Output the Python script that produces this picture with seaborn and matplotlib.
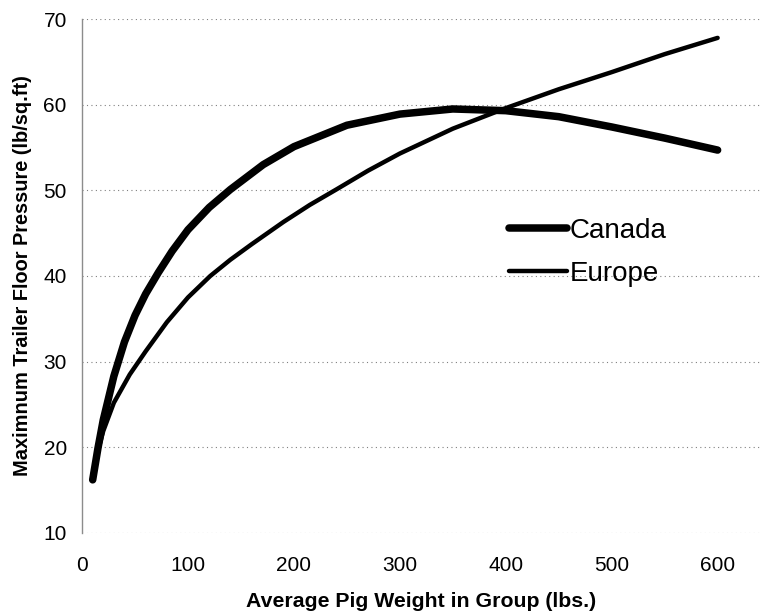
import pandas as pd
import matplotlib.pyplot as plt
import seaborn as sns

# values
canada_weight = [10, 15, 20, 30, 40, 50, 60, 72, 85, 100, 120, 140, 171, 200, 250, 300, 350, 400, 450, 500, 550, 600]
canada_pressure = [16.2, 19.9, 23.2, 28.3, 32.3, 35.4, 37.9, 40.4, 42.9, 45.4, 48.0, 50.1, 53.0, 55.1, 57.6, 58.9,
                   59.5, 59.3, 58.6, 57.4, 56.1, 54.7]

europe_weight = [10, 15, 20, 30, 45, 60, 80, 100, 121, 140, 160, 190, 215, 240, 270, 300, 350, 400, 450, 500, 550, 600]
europe_pressure = [16.8, 19.6, 21.9, 25.2, 28.5, 31.2, 34.6, 37.5, 40.0, 41.9, 43.7, 46.3, 48.3, 50.1, 52.3, 54.3,
                   57.2, 59.6, 61.8, 63.8, 65.9, 67.8]

x_ticks = [0, 100, 200, 300, 400, 500, 600]
y_ticks = [10, 20, 30, 40, 50, 60, 70]

canada = pd.DataFrame({"weight": canada_weight, "pressure": canada_pressure})
europe = pd.DataFrame({"weight": europe_weight, "pressure": europe_pressure})

sns.set_style("white")
plt.rcParams['font.family'] = ['Liberation Sans', 'DejaVu Sans']
plt.rcParams['text.color'] = 'black'
plt.rcParams['axes.labelcolor'] = 'black'

fig = plt.figure(figsize=(7.6, 6.14), dpi=100)
ax = fig.add_axes([0.108, 0.132, 0.892, 0.837])

sns.lineplot(data=canada, x="weight", y="pressure", ax=ax, color="black", linewidth=5.4,
             label="Canada", solid_capstyle="round", solid_joinstyle="round")
sns.lineplot(data=europe, x="weight", y="pressure", ax=ax, color="black", linewidth=3.2,
             label="Europe", solid_capstyle="round", solid_joinstyle="round")

ax.set_xlim(0, 640)
ax.set_ylim(10, 70)
ax.set_xticks(x_ticks)
ax.set_yticks(y_ticks)
ax.tick_params(axis="both", labelsize=15, colors="black", width=0.8)
ax.tick_params(axis="x", direction="inout", length=3, pad=15)
ax.tick_params(axis="y", length=4, pad=7)

for yv in y_ticks:
    ax.axhline(yv, color="0.5", linestyle=(0, (1, 3)), linewidth=0.8, zorder=0)

for side in ["top", "right", "bottom"]:
    ax.spines[side].set_visible(False)
ax.spines["left"].set_color("0.55")
ax.spines["left"].set_linewidth(1.0)

ax.set_xlabel("Average Pig Weight in Group (lbs.)", fontsize=15.3, fontweight="bold", labelpad=12, color="black")
ax.set_ylabel("Maximnum Trailer Floor Pressure (lb/sq.ft)", fontsize=14.4, fontweight="bold", labelpad=8, color="black")

leg = ax.legend(loc="center left", bbox_to_anchor=(0.593, 0.546), frameon=False,
                fontsize=20, handlelength=2.07, handletextpad=0.1, labelspacing=0.62)
for t in leg.get_texts():
    t.set_color("black")

fig.savefig("out.png", dpi=100)
